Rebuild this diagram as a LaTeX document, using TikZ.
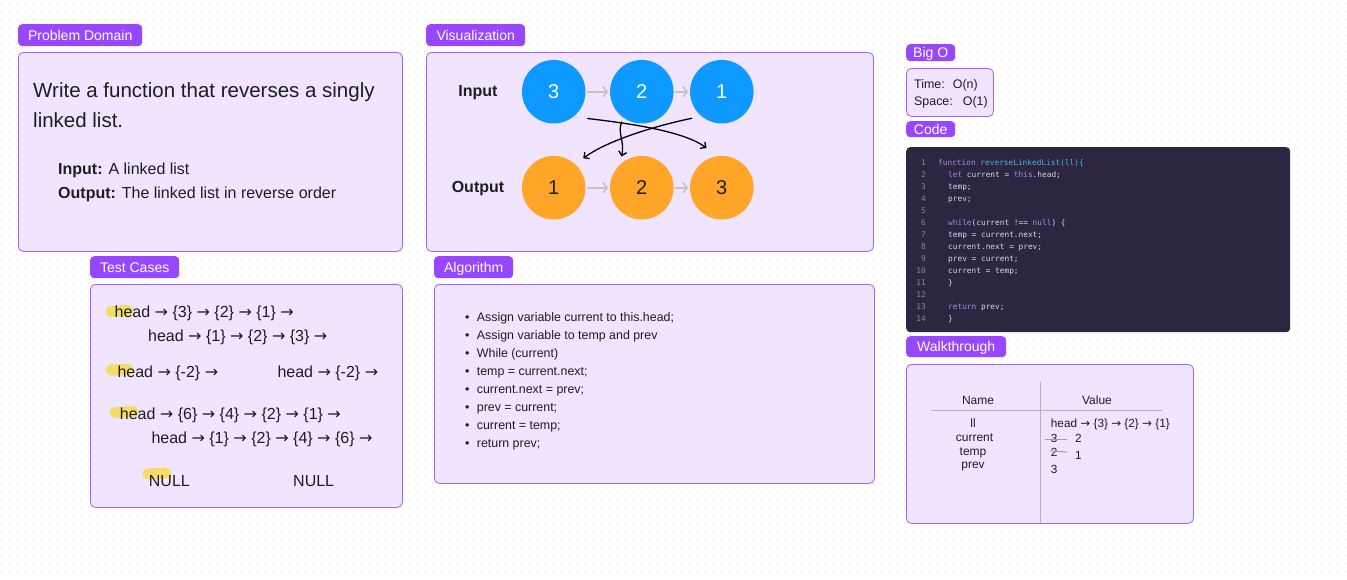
\documentclass[tikz,border=0pt]{standalone}
\usepackage{fontspec}
\setmainfont{Liberation Sans}
\newfontfamily\codefont{DejaVu Sans Mono}
\newfontfamily\arrowfont{DejaVu Sans}
\usetikzlibrary{arrows.meta}
\definecolor{lblpurple}{HTML}{9747FF}
\definecolor{boxfill}{HTML}{F1E4FF}
\definecolor{boxline}{HTML}{A463F2}
\definecolor{inkdark}{HTML}{1E1E1E}
\definecolor{codebg}{HTML}{2C2640}
\definecolor{codekw}{HTML}{A38BF0}
\definecolor{codefn}{HTML}{3FB8E6}
\definecolor{codetx}{HTML}{D9D9E3}
\definecolor{codenum}{HTML}{8C8899}
\definecolor{nodeblue}{HTML}{0D99FF}
\definecolor{nodeorange}{HTML}{FFA629}
\definecolor{hlyellow}{HTML}{F4DC66}
\definecolor{gridgray}{HTML}{ECECEC}
\definecolor{tablegray}{HTML}{B4B4B4}
\newcommand{\kw}[1]{\textcolor{codekw}{#1}}
\newcommand{\fn}[1]{\textcolor{codefn}{#1}}
\newcommand{\ra}{{\arrowfont →}}
\begin{document}
\begin{tikzpicture}[x=1pt,y=-1pt,
  panel/.style={draw=boxline, fill=boxfill, rounded corners=5pt, line width=0.8pt, anchor=north west, inner sep=0pt},
  tag/.style={fill=lblpurple, rounded corners=4pt, text=white, anchor=north west, inner sep=0pt, text height=10pt, text depth=0pt, font=\fontsize{14}{16}\selectfont},
  smalltag/.style={tag},
  txt/.style={anchor=base west, inner sep=0pt, text=inkdark},
  big/.style={txt, font=\fontsize{20.5}{24}\selectfont},
  mid/.style={txt, font=\fontsize{16}{19}\selectfont},
  small/.style={txt, font=\fontsize{12.4}{15}\selectfont},
  cname/.style={anchor=base, inner sep=0pt, text=inkdark, font=\fontsize{12}{14}\selectfont},
  cval/.style={txt, font=\fontsize{11.8}{14}\selectfont},
  codeline/.style={anchor=base west, inner sep=0pt, text=codetx, font=\codefont\fontsize{7.8}{9}\selectfont},
  codenumber/.style={anchor=base east, inner sep=0pt, text=codenum, font=\codefont\fontsize{7.8}{9}\selectfont},
  blueball/.style={circle, fill=nodeblue, minimum size=63.5pt, inner sep=0pt, text=white, font=\fontsize{20}{24}\selectfont},
  orangeball/.style={circle, fill=nodeorange, minimum size=63.5pt, inner sep=0pt, text=inkdark, font=\fontsize{20}{24}\selectfont},
  grayarrow/.style={draw={rgb,255:red,196;green,196;blue,196}, line width=1.6pt, -{Straight Barb[length=4.5pt,width=10pt]}, shorten >=1.5pt, shorten <=1pt},
  handarrow/.style={draw=black, line width=1.3pt, line cap=round, -{Straight Barb[length=4pt,width=8pt]}},
  hl/.style={draw=hlyellow, line width=11pt, line cap=round},
  strike/.style={draw={rgb,255:red,160;green,160;blue,160}, line width=1pt}
]
\useasboundingbox (0,0) rectangle (1347,579);
\fill[white] (0,0) rectangle (1347,579);
\foreach \yy in {3.5,11.5,...,579}
  \draw[gridgray, line width=1.3pt, dash pattern=on 1.3pt off 6.7pt] (0.4,\yy) -- (1347,\yy);

% ---------------- Problem Domain
\node[tag, minimum width=124pt, minimum height=22pt] (pdtag) at (18,24) {Problem Domain};
\node[panel, minimum width=384pt, minimum height=199pt] (pdbox) at (18,52) {};
\node[big] (pd1) at (33,97) {Write a function that reverses a singly};
\node[big] (pd2) at (33,127) {linked list.};
\node[mid] (pd3) at (58,174) {\textbf{Input:} A linked list};
\node[mid] (pd4) at (58,198) {\textbf{Output:} The linked list in reverse order};

% ---------------- Visualization
\node[tag, minimum width=99pt, minimum height=22pt] (vistag) at (426,24) {Visualization};
\node[panel, minimum width=447pt, minimum height=199pt] (visbox) at (426,52) {};
\node[anchor=center, inner sep=0pt, text=inkdark, font=\bfseries\fontsize{16}{19}\selectfont] (inlbl) at (478,92.5) {Input};
\node[anchor=center, inner sep=0pt, text=inkdark, font=\bfseries\fontsize{16}{19}\selectfont] (outlbl) at (478,188.5) {Output};
\node[blueball] (in3) at (553.7,91.7) {3};
\node[blueball] (in2) at (641.8,91.7) {2};
\node[blueball] (in1) at (721.8,91.7) {1};
\node[orangeball] (out1) at (553.7,187.7) {1};
\node[orangeball] (out2) at (641.8,187.7) {2};
\node[orangeball] (out3) at (721.8,187.7) {3};
\draw[grayarrow] (in3) -- (in2);
\draw[grayarrow] (in2) -- (in1);
\draw[grayarrow] (out1) -- (out2);
\draw[grayarrow] (out2) -- (out3);
\coordinate (ha1s) at (587.5,118.5);
\coordinate (ha1e) at (706.5,148);
\coordinate (ha2s) at (691.7,118.3);
\coordinate (ha2e) at (583.3,158.3);
\coordinate (ha3s) at (621.7,122);
\coordinate (ha3e) at (621.5,156.5);
\draw[handarrow] (ha1s) .. controls (635,124) and (685,132) .. (ha1e);
\draw[handarrow] (ha2s) .. controls (650,127) and (605,142) .. (ha2e);
\draw[handarrow] (ha3s) .. controls (617,132) and (625,142) .. (ha3e);

% ---------------- Test Cases
\node[tag, minimum width=89pt, minimum height=22pt] (tctag) at (90,256) {Test Cases};
\node[panel, minimum width=312pt, minimum height=223pt] (tcbox) at (90,284) {};
\draw[hl] (111,311.5) -- (128,310.5);
\draw[hl] (111,370) -- (128,369.5);
\draw[hl] (115,412.5) -- (133,411.5);
\draw[hl] (148,474) -- (166,473);
\node[mid] (tc1) at (114.5,317.5) {head \ra{} \{3\} \ra{} \{2\} \ra{} \{1\} \ra};
\node[mid] (tc2) at (148,341.5) {head \ra{} \{1\} \ra{} \{2\} \ra{} \{3\} \ra};
\node[mid] (tc3) at (117.3,377.5) {head \ra{} \{-2\} \ra};
\node[mid] (tc4) at (277.3,377.5) {head \ra{} \{-2\} \ra};
\node[mid] (tc5) at (119.7,419.3) {head \ra{} \{6\} \ra{} \{4\} \ra{} \{2\} \ra{} \{1\} \ra};
\node[mid] (tc6) at (151.3,443.3) {head \ra{} \{1\} \ra{} \{2\} \ra{} \{4\} \ra{} \{6\} \ra};
\node[mid] (tc7) at (148.7,486) {NULL};
\node[mid] (tc8) at (293,486) {NULL};

% ---------------- Algorithm
\node[tag, minimum width=79pt, minimum height=22pt] (altag) at (434,256) {Algorithm};
\node[panel, minimum width=440pt, minimum height=199pt] (albox) at (434,284) {};
\foreach \t [count=\i from 0] in {Assign variable current to this.head;, Assign variable to temp and prev, While (current), temp = current.next;, current.next = prev;, prev = current;, current = temp;, return prev;}{
  \node[small] (alb\i) at (465,321.7+18*\i) {•};
  \node[small] (al\i) at (476.7,321.7+18*\i) {\t};
}

% ---------------- Big O
\node[smalltag, minimum width=49pt, minimum height=17pt] (bigotag) at (906,44) {Big O};
\node[panel, minimum width=87pt, minimum height=48pt] (bigobox) at (906,68) {};
\node[small] (bo1) at (914,88.3) {Time:};
\node[small] (bo2) at (952.7,88.3) {O(n)};
\node[small] (bo3) at (914,105.7) {Space:};
\node[small] (bo4) at (962.7,105.7) {O(1)};

% ---------------- Code
\node[smalltag, minimum width=49pt, minimum height=16pt] (codetag) at (906,121) {Code};
\node[fill=codebg, rounded corners=4pt, anchor=north west, inner sep=0pt, minimum width=384pt, minimum height=185pt] (codebox) at (906,147) {};
\foreach \n in {1,...,14}
  \node[codenumber] (cn\n) at (926,165+12*\n-12) {\n};
\node[codeline] (c1) at (938,165) {\kw{function} \fn{reverseLinkedList(ll)\{}};
\node[codeline] (c2) at (948,177) {\kw{let} current = \kw{this}.head;};
\node[codeline] (c3) at (948,189) {temp;};
\node[codeline] (c4) at (948,201) {prev;};
\node[codeline] (c6) at (948,225) {\kw{while}(current !== \kw{null}) \{};
\node[codeline] (c7) at (948,237) {temp = current.next;};
\node[codeline] (c8) at (948,249) {current.next = prev;};
\node[codeline] (c9) at (948,261) {prev = current;};
\node[codeline] (c10) at (948,273) {current = temp;};
\node[codeline] (c11) at (948,285) {\}};
\node[codeline] (c13) at (948,309) {\kw{return} prev;};
\node[codeline] (c14) at (948,321) {\}};

% ---------------- Walkthrough
\node[tag, minimum width=100pt, minimum height=21pt] (wttag) at (906,336) {Walkthrough};
\node[panel, minimum width=287pt, minimum height=159pt] (wtbox) at (906,364) {};
\coordinate (vtop) at (1040.7,381.7);
\coordinate (vbot) at (1040.7,523);
\coordinate (hl0) at (931,410.3);
\coordinate (hr0) at (1162,410.3);
\draw[tablegray, line width=1pt] (vtop) -- (vbot);
\draw[tablegray, line width=1pt] (hl0) -- (hr0);
\node[cname] (hname) at (978,404) {Name};
\node[cname] (hvalue) at (1097,404) {Value};
\node[cname] (n1) at (973,427.7) {ll};
\node[cname] (n2) at (974.5,441.7) {current};
\node[cname] (n3) at (973,455) {temp};
\node[cname] (n4) at (973,468.3) {prev};
\node[cval] (v1) at (1050.7,427.7) {head \ra{} \{3\} \ra{} \{2\} \ra{} \{1\}};
\node[cval] (v2a) at (1050.7,442.7) {3};
\node[cval] (v2b) at (1075,442.7) {2};
\node[cval] (v3a) at (1050.7,456) {2};
\node[cval] (v3b) at (1075,459.3) {1};
\node[cval] (v4) at (1050.7,473.3) {3};
\coordinate (s1a) at (1045,439);
\coordinate (s1b) at (1067,439);
\coordinate (s2a) at (1050,451);
\coordinate (s2b) at (1067,452);
\draw[strike] (s1a) -- (s1b);
\draw[strike] (s2a) -- (s2b);
\end{tikzpicture}
\end{document}
